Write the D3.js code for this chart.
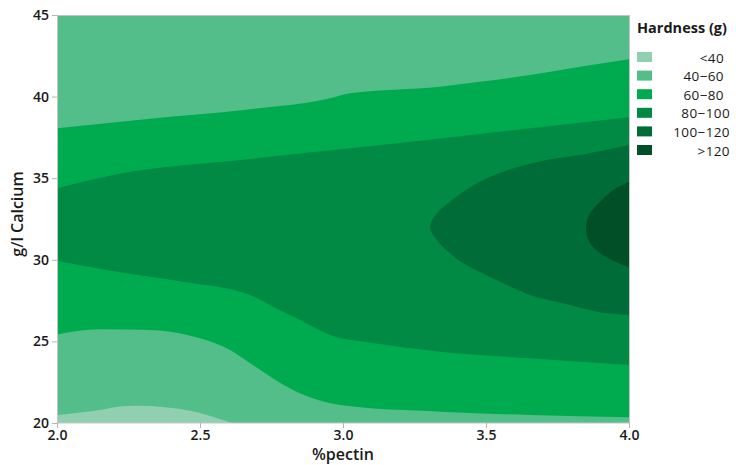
<!DOCTYPE html>
<html>
<head>
<meta charset="utf-8">
<script src="https://cdn.jsdelivr.net/npm/d3@7"></script>
<style>
  body { margin: 0; background: #fff; }
  svg text { font-family: "Open Sans", "Noto Sans", sans-serif; }
</style>
</head>
<body>
<svg id="chart" width="736" height="465"></svg>
<script>
// Axis ticks
const pectinTicks = [2.0, 2.5, 3.0, 3.5, 4.0];
const calciumTicks = [20, 25, 30, 35, 40, 45];

// Hardness classes (g) and their fills
const hardnessLabels = ["<40", "40\u221260", "60\u221280", "80\u2212100", "100\u2212120", ">120"];
const hardnessColors = ["#90d0b0", "#53be89", "#00ab4f", "#008a44", "#006d38", "#004f27"];

// Iso-hardness boundaries as [% pectin, g/l calcium]
const iso40 = [[2.0, 20.49], [2.15, 20.80], [2.23, 21.03], [2.30, 21.05], [2.36, 21.0], [2.5, 20.62], [2.61, 20.0]];
const iso60Lower = [[2.0, 25.43], [2.15, 25.74], [2.325, 25.70], [2.5, 25.19], [2.605, 24.47], [2.675, 23.66],
                    [2.825, 22.02], [2.99, 21.10], [3.339, 20.69], [3.654, 20.49], [4.0, 20.35]];
const iso60Upper = [[2.0, 38.06], [2.325, 38.65], [2.675, 39.22], [2.955, 39.90], [3.024, 40.20], [3.339, 40.61],
                    [3.479, 40.91], [3.654, 41.32], [3.829, 41.83], [4.0, 42.29]];
const iso80Lower = [[2.0, 29.94], [2.209, 29.27], [2.44, 28.66], [2.675, 27.84], [2.755, 27.13], [2.85, 26.31],
                    [2.955, 25.39], [3.105, 24.90], [3.339, 24.37], [3.654, 23.96], [4.0, 23.55]];
const iso80Upper = [[2.0, 34.38], [2.209, 35.24], [2.675, 36.18], [2.99, 36.77], [3.339, 37.44], [3.654, 38.06], [4.0, 38.73]];
const iso100 = [[4.0, 37.03], [3.829, 36.42], [3.712, 36.12], [3.596, 35.61], [3.491, 34.89], [3.421, 34.17],
                [3.374, 33.56], [3.328, 32.85], [3.304, 32.03], [3.328, 31.21], [3.374, 30.40], [3.421, 29.79],
                [3.537, 28.76], [3.654, 27.84], [3.77, 27.33], [3.887, 26.82], [4.0, 26.62]];
const iso120 = [[4.0, 34.79], [3.945, 34.28], [3.899, 33.56], [3.864, 32.85], [3.849, 31.93], [3.864, 31.01],
                [3.899, 30.40], [3.945, 29.94], [4.0, 29.54]];

const svg = d3.select("#chart");
const plot = { left: 57, right: 629, top: 15, bottom: 423 };

const x = d3.scaleLinear().domain([2.0, 4.0]).range([plot.left, plot.right]);
const y = d3.scaleLinear().domain([20, 45]).range([plot.bottom, plot.top]);

svg.append("defs").append("clipPath").attr("id", "plot-clip")
  .append("rect")
  .attr("x", plot.left).attr("y", plot.top)
  .attr("width", plot.right - plot.left).attr("height", plot.bottom - plot.top);

const bands = svg.append("g").attr("clip-path", "url(#plot-clip)");

// Base layer: 40-60 everywhere, then each band is painted over from the calcium floor
bands.append("rect")
  .attr("x", plot.left).attr("y", plot.top)
  .attr("width", plot.right - plot.left).attr("height", plot.bottom - plot.top)
  .attr("fill", hardnessColors[1]);

const below = d3.area()
  .x(d => x(d[0]))
  .y0(y(20))
  .y1(d => y(d[1]))
  .curve(d3.curveMonotoneX);

const layers = [
  [iso60Upper, 2],
  [iso80Upper, 3],
  [iso80Lower, 2],
  [iso60Lower, 1],
  [iso40, 0]
];
layers.forEach(([pts, k]) => {
  bands.append("path").attr("d", below(pts)).attr("fill", hardnessColors[k]);
});

// Closed contours that open onto the 4% pectin edge
const arc = d3.line()
  .x(d => x(d[0]))
  .y(d => y(d[1]))
  .curve(d3.curveCatmullRom.alpha(0.5));

bands.append("path").attr("d", arc(iso100) + "Z").attr("fill", hardnessColors[4]);
bands.append("path").attr("d", arc(iso120) + "Z").attr("fill", hardnessColors[5]);

// Frame
svg.append("rect")
  .attr("x", plot.left + 0.5).attr("y", plot.top + 0.5)
  .attr("width", plot.right - plot.left).attr("height", plot.bottom - plot.top - 0.5)
  .attr("fill", "none").attr("stroke", "#c4c4c4").attr("stroke-width", 1);

// Axes
const xAxis = svg.append("g")
  .attr("transform", `translate(0,${plot.bottom})`)
  .call(d3.axisBottom(x).tickValues(pectinTicks).tickFormat(d3.format(".1f")).tickSize(5).tickPadding(2));
const yAxis = svg.append("g")
  .attr("transform", `translate(${plot.left},0)`)
  .call(d3.axisLeft(y).tickValues(calciumTicks).tickFormat(d3.format("d")).tickSize(5).tickPadding(3));

[xAxis, yAxis].forEach(g => {
  g.select(".domain").remove();
  g.selectAll(".tick line").attr("stroke", "#b4b4b4");
  g.selectAll(".tick text")
    .attr("fill", "#1a1a1a")
    .style("font-size", "14px")
    .style("font-weight", 600);
});

// Axis titles
svg.append("text")
  .attr("x", (plot.left + plot.right) / 2).attr("y", 460)
  .attr("text-anchor", "middle")
  .attr("fill", "#1a1a1a")
  .style("font-size", "16px").style("font-weight", 600)
  .text("%pectin");

svg.append("text")
  .attr("transform", `translate(23,${(plot.top + plot.bottom) / 2 - 5}) rotate(-90)`)
  .attr("text-anchor", "middle")
  .attr("fill", "#1a1a1a")
  .style("font-size", "16px").style("font-weight", 600)
  .text("g/l Calcium");

// Legend
const legend = svg.append("g").attr("transform", "translate(637,0)");
legend.append("text")
  .attr("x", 0).attr("y", 33)
  .attr("fill", "#1a1a1a")
  .style("font-size", "14.5px").style("font-weight", 700)
  .text("Hardness (g)");

const rows = legend.selectAll("g.row")
  .data(hardnessLabels)
  .join("g")
  .attr("class", "row")
  .attr("transform", (d, i) => `translate(0,${52 + i * 18.6})`);

rows.append("rect")
  .attr("width", 15).attr("height", 10)
  .attr("fill", (d, i) => hardnessColors[i]);

rows.append("text")
  .attr("x", d => {
    const last = d.split(/[^0-9]+/).filter(Boolean).pop();
    return 87 + (last.length - 2) * 6;
  })
  .attr("y", 10.5)
  .attr("text-anchor", "end")
  .attr("fill", "#1a1a1a")
  .style("font-size", "13.5px")
  .style("letter-spacing", "0.4px")
  .text(d => d);
</script>
</body>
</html>
